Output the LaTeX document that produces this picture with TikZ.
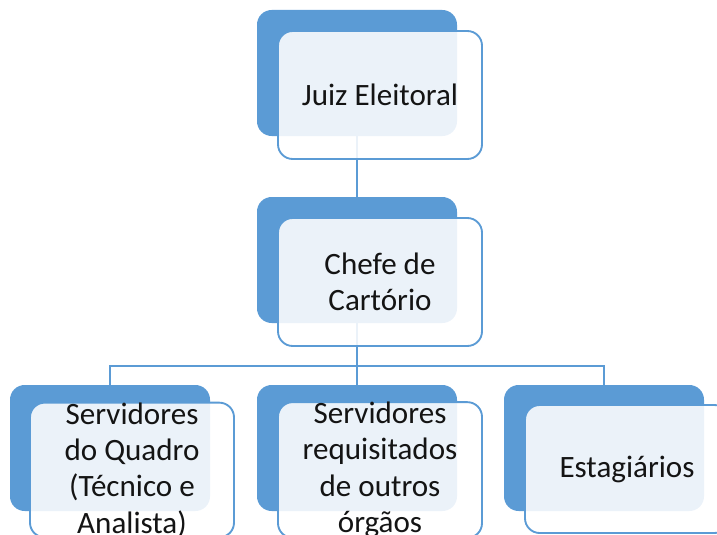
\documentclass[tikz,border=0pt]{standalone}
\usepackage{fontspec}
\setmainfont{Carlito}
\usetikzlibrary{positioning,calc}
\definecolor{officeblue}{HTML}{5B9BD5}
\tikzset{backbox/.style={rounded corners=11pt, fill=officeblue, draw=none, inner sep=0, minimum width=150pt, minimum height=94.5pt}}
\tikzset{frontbox/.style={rounded corners=11pt, draw=officeblue, line width=1.4pt, fill=white, fill opacity=0.88, text opacity=1, inner sep=0, minimum width=153pt, minimum height=96pt, align=center, font=\fontsize{23.3}{27.2}\selectfont, text=black!92}}
\tikzset{conn/.style={draw=officeblue, line width=1.1pt}}

\begin{document}
\begin{tikzpicture}[x=0.75pt, y=-0.75pt]
		\useasboundingbox (0,0) rectangle (717,535);
		\clip (0,0) rectangle (717,535);
		
		% shadow cards
		\node[backbox] (juiz-back) at (357,73){};
		\node[backbox] (chefe-back) at (357,260){};
		\node[backbox] (quadro-back) at (110,448){};
		\node[backbox] (requis-back) at (357,448){};
		\node[backbox] (estag-back) at (604,448){};
		
		\coordinate (bus) at (357,366);
		\draw[conn] (juiz-back.south) -- (chefe-back.north);
		\draw[conn] (chefe-back.south) -- (bus) -| (quadro-back.north);
		\draw[conn] (bus) -| (estag-back.north);
		\draw[conn] (bus) -- (requis-back.north);
		
		% text cards
		\node[frontbox] (juiz) at (380,95){Juiz Eleitoral};
		\node[frontbox] (chefe) at (380,282){Chefe de\\Cartório};
		\node[frontbox] (quadro) at (132,470){Servidores\\do Quadro\\(Técnico e\\Analista)};
		\node[frontbox] (requis) at (380,470){Servidores\\requisitados\\de outros\\órgãos};
		\node[frontbox] (estag) at (627,469){Estagiários};
	\end{tikzpicture}
\end{document}
